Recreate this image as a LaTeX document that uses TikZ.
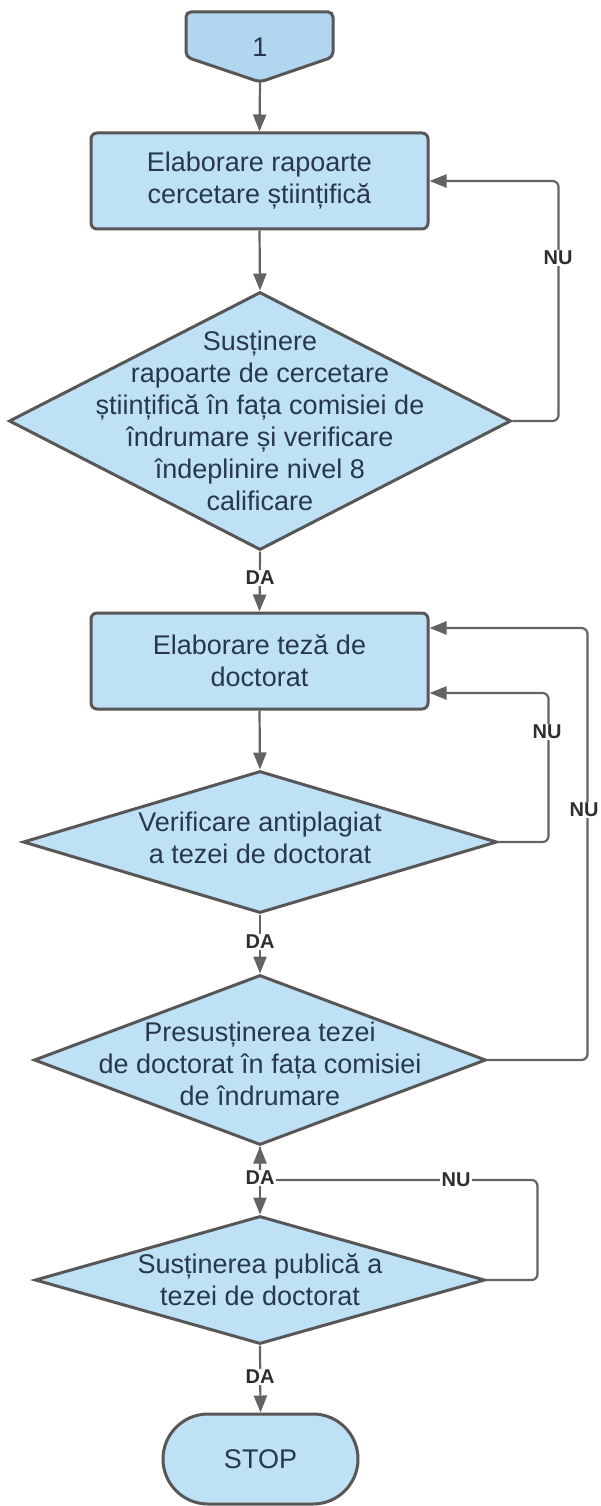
\documentclass[tikz,border=0pt]{standalone}
\usepackage{fontspec}
\setmainfont{Liberation Sans}
\usetikzlibrary{arrows.meta,shapes.geometric}
\definecolor{fillc}{HTML}{BFE1F6}
\definecolor{fillk}{HTML}{B3D6F0}
\definecolor{edgec}{HTML}{575757}
\definecolor{linec}{HTML}{636363}
\definecolor{txtc}{HTML}{28374A}
\definecolor{lblc}{HTML}{2E2E2E}
\newcommand\mtxt{\fontsize{27}{32}\selectfont}
\newcommand\ltxt{\bfseries\fontsize{20}{24}\selectfont}
\begin{document}
\begin{tikzpicture}[x=1pt,y=-1pt,
  shapeline/.style={draw=edgec, line width=3pt, fill=fillc},
  procbox/.style={shapeline, rectangle, rounded corners=6pt, minimum width=337pt, minimum height=96pt, inner sep=0pt, text=txtc, align=center, font=\mtxt},
  decis/.style={shapeline, diamond, inner sep=0pt},
  dtext/.style={text=txtc, align=center, font=\mtxt},
  conn/.style={draw=linec, line width=2.2pt, rounded corners=6pt},
  arr/.style={conn, -{Triangle[length=17pt,width=13pt]}},
  lbl/.style={fill=white, inner sep=1.5pt, text=lblc, font=\ltxt}
]
\fill[white] (0,0) rectangle (601,1506);
\useasboundingbox (0,0) rectangle (601,1506);

% off-page connector
\draw[shapeline, fill=fillk, rounded corners=5pt] (186,12) -- (333,12) -- (333,57) -- (260,82) -- (186,57) -- cycle;
\node[text=txtc, font=\mtxt] (c1) at (260,47) {1};
\coordinate (c1tip) at (260,82);

\node[procbox] (b1) at (259.5,181) {Elaborare rapoarte\\cercetare științifică};
\node[decis, minimum width=502pt, minimum height=258pt,
  label={[dtext]center:{Susținere\\rapoarte de cercetare\\științifică în fața comisiei de\\îndrumare și verificare\\îndeplinire nivel 8\\calificare}}] (d1) at (260,421) {};
\node[procbox] (b2) at (259.5,661) {Elaborare teză de\\doctorat};
\node[decis, minimum width=474pt, minimum height=142pt,
  label={[dtext, yshift=4pt]center:{Verificare antiplagiat\\a tezei de doctorat}}] (d2) at (260,842) {};
\node[decis, minimum width=452pt, minimum height=170pt,
  label={[dtext, yshift=-4pt]center:{Presusținerea tezei\\de doctorat în fața comisiei\\de îndrumare}}] (d3) at (260,1060) {};
\node[decis, minimum width=450pt, minimum height=128pt,
  label={[dtext]center:{Susținerea publică a\\tezei de doctorat}}] (d4) at (260,1280) {};
\node[shapeline, rectangle, rounded corners=45pt, minimum width=195pt, minimum height=90pt, text=txtc, font=\mtxt] (stop) at (260.5,1459) {STOP};
\coordinate (j) at (260,1180);

% main flow
\draw[arr] (c1tip) -- (b1.north);
\draw[arr] (b1.south) -- (d1.north);
\draw[arr] (d1.south) -- (b2.north);
\draw[arr] (b2.south) -- (d2.north);
\draw[arr] (d2.south) -- (d3.north);
\draw[arr] (d3.south) -- (d4.north);
\draw[arr] (d4.south) -- (stop.north);

% loops
\draw[arr] (d1.east) -- ++(46,0) |- (b1.east);
\draw[arr] (d2.east) -- ++(50,0) |- ([yshift=-32pt]b2.east);
\draw[arr] (d3.east) -- ++(100,0) |- ([yshift=33pt]b2.east);
\draw[arr] (d4.east) -- ++(51,0) |- (j) -- (d3.south);

% labels
\node[lbl] (nu1) at (558,258) {NU};
\node[lbl] (da1) at (260,578) {DA};
\node[lbl] (nu2) at (547,732) {NU};
\node[lbl] (nu3) at (584,810) {NU};
\node[lbl] (da2) at (260,942) {DA};
\node[lbl] (da3) at (260,1178) {DA};
\node[lbl] (nu4) at (456,1180) {NU};
\node[lbl] (da4) at (260,1377) {DA};
\end{tikzpicture}
\end{document}
